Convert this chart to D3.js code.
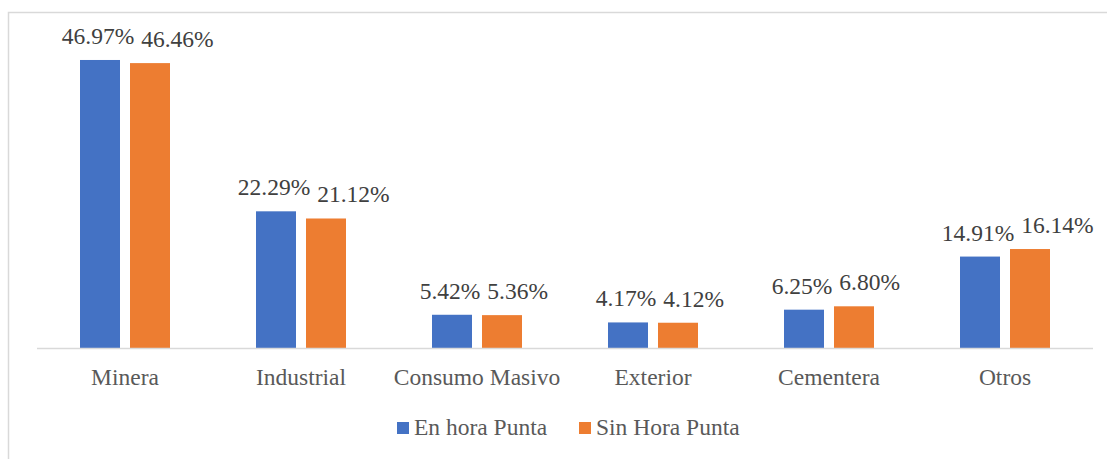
<!DOCTYPE html>
<html>
<head>
<meta charset="utf-8">
<script src="https://cdn.jsdelivr.net/npm/d3@7"></script>
<style>
  body { margin: 0; background: #fff; }
  svg { display: block; }
  svg text { font-family: "Liberation Serif", "Times New Roman", Tinos, "DejaVu Serif", serif; }
</style>
</head>
<body>
<div id="chart"></div>
<script>
// data
const categories = ["Minera", "Industrial", "Consumo Masivo", "Exterior", "Cementera", "Otros"];
const seriesNames = ["En hora Punta", "Sin Hora Punta"];
const enHoraPunta = [46.97, 22.29, 5.42, 4.17, 6.25, 14.91];
const sinHoraPunta = [46.46, 21.12, 5.36, 4.12, 6.80, 16.14];
const colors = ["#4472C4", "#ED7D31"];

const W = 1107, H = 459;
const fontSize = 23.5;
const serif = '"Liberation Serif", "Times New Roman", Tinos, "DejaVu Serif", serif';

let svg = d3.select("#chart").append("svg")
  .attr("width", W)
  .attr("height", H);

// chart area border (right/bottom fall outside the picture)
svg.append("rect")
  .attr("x", 8.5).attr("y", 12.5)
  .attr("width", 1120).attr("height", 470)
  .attr("fill", "none")
  .attr("stroke", "#d9d9d9")
  .attr("stroke-width", 1.5);

let x = d3.scaleBand().domain(categories).range([37, 1093]);
let x1 = d3.scaleBand().domain(seriesNames).range([0, 90]).paddingInner(0.2);
let y = d3.scaleLinear().domain([0, 50]).range([348, 41.4]);
let inset = (x.bandwidth() - 90) / 2;

let rows = categories.map(function(c, i) {
  return { cat: c, vals: [enHoraPunta[i], sinHoraPunta[i]] };
});

// bars
let groups = svg.selectAll(".cat")
  .data(rows)
  .enter().append("g")
  .attr("class", "cat")
  .attr("transform", function(d) { return "translate(" + (x(d.cat) + inset) + ",0)"; });

groups.selectAll("rect")
  .data(function(d) { return d.vals.map(function(v, j) { return { s: seriesNames[j], v: v, j: j }; }); })
  .enter().append("rect")
  .attr("x", function(d) { return x1(d.s); })
  .attr("y", function(d) { return y(d.v); })
  .attr("width", x1.bandwidth())
  .attr("height", function(d) { return y(0) - y(d.v); })
  .attr("fill", function(d) { return colors[d.j]; });

// baseline
svg.append("line")
  .attr("x1", 37).attr("x2", 1093)
  .attr("y1", y(0) + 0.5).attr("y2", y(0) + 0.5)
  .attr("stroke", "#d9d9d9")
  .attr("stroke-width", 1.5);

// data labels: second label pushed right so it does not touch the first (like Excel)
groups.each(function(d) {
  let g = d3.select(this);
  let cx0 = x1(seriesNames[0]) + x1.bandwidth() / 2 - 2;
  let t0 = g.append("text")
    .attr("x", cx0)
    .attr("y", y(d.vals[0]) - 16)
    .attr("text-anchor", "middle")
    .style("font-family", serif)
    .style("font-size", fontSize + "px")
    .attr("fill", "#404040")
    .text(d.vals[0].toFixed(2) + "%");
  let w0 = t0.node().getComputedTextLength();

  let t1 = g.append("text")
    .attr("y", y(d.vals[1]) - 16)
    .attr("text-anchor", "middle")
    .style("font-family", serif)
    .style("font-size", fontSize + "px")
    .attr("fill", "#404040")
    .text(d.vals[1].toFixed(2) + "%");
  let w1 = t1.node().getComputedTextLength();
  let cx1 = x1(seriesNames[1]) + x1.bandwidth() / 2;
  cx1 = Math.max(cx1, cx0 + w0 / 2 + 7 + w1 / 2);
  t1.attr("x", cx1);
});

// category axis
let xAxis = svg.append("g")
  .attr("transform", "translate(0," + y(0) + ")")
  .call(d3.axisBottom(x).tickSize(0).tickPadding(0));
xAxis.select(".domain").remove();
xAxis.attr("font-family", null).attr("font-size", null);
xAxis.selectAll("text")
  .attr("dy", 0)
  .attr("y", 37)
  .style("font-family", serif)
  .style("font-size", fontSize + "px")
  .attr("fill", "#595959");

// legend
let legend = svg.append("g").attr("class", "legend");
let legendX = [397, 579];
seriesNames.forEach(function(s, i) {
  let lg = legend.append("g").attr("transform", "translate(" + legendX[i] + ",422)");
  lg.append("rect")
    .attr("width", 12).attr("height", 12)
    .attr("fill", colors[i]);
  lg.append("text")
    .attr("x", 17).attr("y", 13)
    .style("font-family", serif)
    .style("font-size", fontSize + "px")
    .attr("fill", "#595959")
    .text(s);
});
</script>
</body>
</html>
